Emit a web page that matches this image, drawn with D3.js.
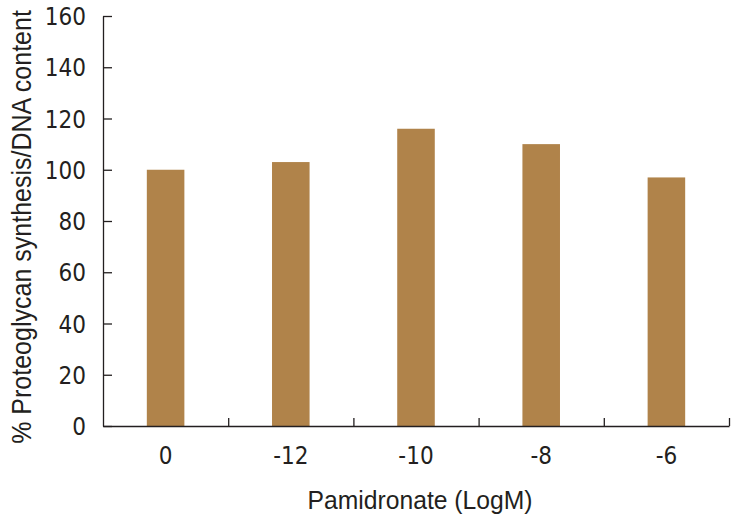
<!DOCTYPE html>
<html>
<head>
<meta charset="utf-8">
<script src="https://cdn.jsdelivr.net/npm/d3@7"></script>
<style>
	body { margin: 0; background: #fff; }
	svg text { font-family: "DejaVu Sans Condensed", "Liberation Sans", sans-serif; fill: #231f20; }
	svg text.title { font-family: "Liberation Sans", Arial, sans-serif; }
	.axis path, .axis line { stroke: #231f20; stroke-width: 1.3; }
</style>
</head>
<body>
<script>
// data
var doses = ["0", "-12", "-10", "-8", "-6"];
var values = [100, 103, 116, 110, 97];
var yTicks = [0, 20, 40, 60, 80, 100, 120, 140, 160];

var width = 732, height = 520;
var margin = {top: 16, right: 3, bottom: 94, left: 103};

var svg = d3.select("body").append("svg")
	.attr("width", width)
	.attr("height", height);

var x = d3.scaleBand()
	.domain(doses)
	.range([margin.left, width - margin.right])
	.paddingInner(0.7)
	.paddingOuter(0.35);

var xEdges = d3.scaleLinear()
	.domain([0, doses.length])
	.range([margin.left, width - margin.right]);

var y = d3.scaleLinear()
	.domain([0, 160])
	.range([height - margin.bottom, margin.top]);

// bars
svg.append("g").selectAll("rect")
	.data(values).enter()
	.append("rect")
	.attr("x", function(d, i) { return x(doses[i]); })
	.attr("width", x.bandwidth())
	.attr("y", function(d) { return y(d); })
	.attr("height", function(d) { return y(0) - y(d); })
	.style("fill", "#b0834a");

// y axis, ticks pointing inwards
var gY = svg.append("g")
	.attr("class", "axis")
	.attr("transform", "translate(" + margin.left + ",0)")
	.call(d3.axisLeft(y).tickValues(yTicks).tickSizeInner(-9).tickSizeOuter(0).tickPadding(17));
gY.selectAll("text").style("font-size", "24px").attr("dy", "0.36em");

// x axis line + boundary ticks
var gX = svg.append("g")
	.attr("class", "axis")
	.attr("transform", "translate(0," + y(0) + ")")
	.call(d3.axisBottom(xEdges).tickValues([1, 2, 3, 4, 5]).tickSizeInner(-8).tickSizeOuter(0).tickFormat(""));

// category labels
svg.append("g").selectAll("text")
	.data(doses).enter()
	.append("text")
	.attr("x", function(d) { return x(d) + x.bandwidth() / 2; })
	.attr("y", y(0) + 38)
	.style("text-anchor", "middle")
	.style("font-size", "24px")
	.text(function(d) { return d; });

// axis titles, squeezed horizontally to look like a condensed face
function condensed(sel, target, cx, cy, rot) {
	var len = sel.node().getComputedTextLength();
	var k = Math.min(1, target / len);
	sel.attr("transform", "translate(" + cx + "," + cy + ") rotate(" + rot + ") scale(" + k + ",1)");
}

var xTitle = svg.append("text")
	.attr("class", "title")
	.style("text-anchor", "middle")
	.style("font-size", "26px")
	.text("Pamidronate (LogM)");
condensed(xTitle, 225, 420, 509, 0);

var yTitle = svg.append("text")
	.attr("class", "title")
	.style("text-anchor", "middle")
	.style("font-size", "27px")
	.text("% Proteoglycan synthesis/DNA content");
condensed(yTitle, 434, 31, 227, -90);
</script>
</body>
</html>
